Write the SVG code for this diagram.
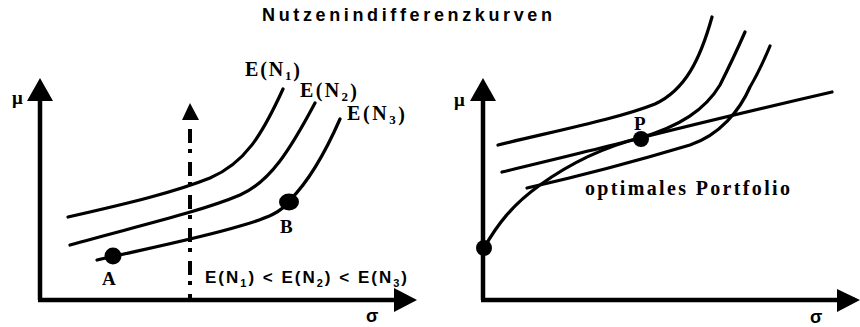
<svg xmlns="http://www.w3.org/2000/svg" width="860" height="327" viewBox="0 0 860 327">
<style>
.ax{stroke:#000;stroke-width:4.5;fill:none}
.cv{stroke:#000;stroke-width:3.2;fill:none;stroke-linecap:round;stroke-linejoin:round}
.dd{stroke:#000;stroke-width:4;fill:none;stroke-dasharray:14 6 4 9}
.head{fill:#000}
.dot{fill:#000}
.sans{font-family:"Liberation Sans",Arial,sans-serif;font-weight:bold;fill:#000}
.serif{font-family:"Liberation Serif","Times New Roman",serif;font-weight:bold;fill:#000}
</style>
<rect width="860" height="327" fill="#fff"/>
<text class="sans" x="262" y="21" font-size="18" textLength="290" lengthAdjust="spacing">Nutzenindifferenzkurven</text>

<g id="left-chart">
  <g id="left-axes">
    <path class="ax" d="M40,300 V98"/>
    <polygon class="head" points="40,78 27,101 53,101"/>
    <path class="ax" d="M38,300 H396"/>
    <polygon class="head" points="417,300 394,288 394,312"/>
    <text class="serif" x="12" y="104" font-size="19">μ</text>
    <text class="sans" x="366" y="322" font-size="18">σ</text>
  </g>
  <g id="left-marker">
    <path class="dd" d="M190,129 V300"/>
    <polygon class="head" points="190,103 182,120 199,120"/>
  </g>
  <g id="curve-N1">
    <path class="cv" d="M68,217 C130,203 175,192 210,178 C245,163 262,135 283,89"/>
    <text class="serif" x="245" y="76" font-size="20" textLength="55" lengthAdjust="spacing">E(N<tspan font-size="13" dy="4">1</tspan><tspan dy="-3">)</tspan></text>
  </g>
  <g id="curve-N2">
    <path class="cv" d="M70,245 C130,228 200,212 240,195 C270,182 290,150 315,103"/>
    <text class="serif" x="300" y="97" font-size="20" textLength="57" lengthAdjust="spacing">E(N<tspan font-size="13" dy="4">2</tspan><tspan dy="-3">)</tspan></text>
  </g>
  <g id="curve-N3">
    <path class="cv" d="M97,260 C150,248 200,238 240,226 C268,218 282,212 290,200 C305,185 322,160 340,119"/>
    <text class="serif" x="347" y="120" font-size="20" textLength="58" lengthAdjust="spacing">E(N<tspan font-size="13" dy="4">3</tspan><tspan dy="-3">)</tspan></text>
  </g>
  <g id="point-A">
    <circle class="dot" cx="113" cy="256" r="8.5"/>
    <text class="serif" x="102" y="285" font-size="19">A</text>
  </g>
  <g id="point-B">
    <ellipse class="dot" cx="289" cy="202" rx="10" ry="8.5"/>
    <text class="serif" x="280" y="233" font-size="19">B</text>
  </g>
  <text class="sans" x="205" y="283" font-size="17" textLength="202" lengthAdjust="spacing">E(N<tspan font-size="11" dy="4">1</tspan><tspan dy="-4">) &lt; E(N</tspan><tspan font-size="11" dy="4">2</tspan><tspan dy="-4">) &lt; E(N</tspan><tspan font-size="11" dy="4">3</tspan><tspan dy="-4">)</tspan></text>
</g>

<g id="right-chart">
  <g id="right-axes">
    <path class="ax" d="M483,300 V98"/>
    <polygon class="head" points="483,78 470,101 496,101"/>
    <path class="ax" d="M481,300 H840"/>
    <polygon class="head" points="860,300 837,289 837,312"/>
    <text class="serif" x="454" y="106" font-size="19">μ</text>
    <text class="sans" x="810" y="323" font-size="18">σ</text>
  </g>
  <g id="frontier">
    <path class="cv" d="M484,248 C497,225 512,205 540,185 C565,167 600,148 640,138 C700,123 780,104 832,92"/>
    <circle class="dot" cx="484" cy="248" r="8"/>
  </g>
  <g id="ic1">
    <path class="cv" d="M498,145 C560,130 620,118 655,104 C685,90 700,60 712,17"/>
  </g>
  <g id="ic2">
    <path class="cv" d="M502,172 C560,158 610,146 640,138 C680,126 705,110 720,85 C730,65 738,48 745,32"/>
  </g>
  <g id="ic3">
    <path class="cv" d="M527,188 C580,176 640,160 690,145 C720,135 740,110 750,87 C760,70 765,58 770,46"/>
  </g>
  <g id="point-P">
    <circle class="dot" cx="641" cy="139" r="8"/>
    <text class="serif" x="634" y="130" font-size="19">P</text>
  </g>
  <text class="serif" x="585" y="195" font-size="20" textLength="205" lengthAdjust="spacing">optimales Portfolio</text>
</g>
</svg>
